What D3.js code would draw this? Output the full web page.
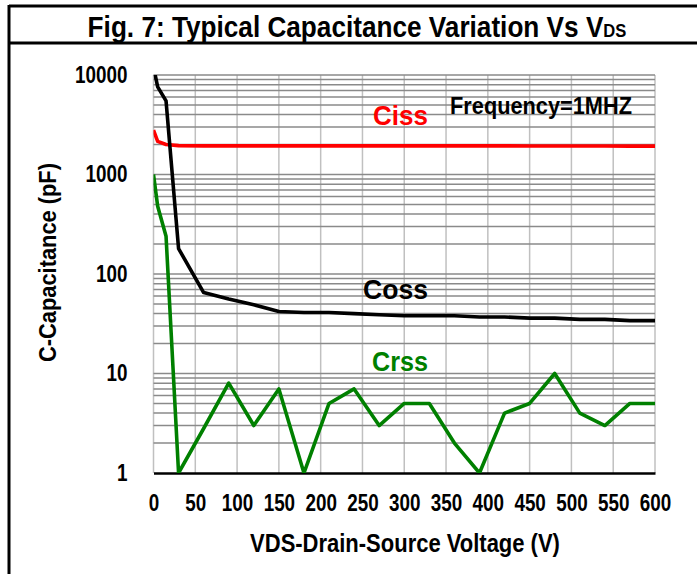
<!DOCTYPE html>
<html>
<head>
<meta charset="utf-8">
<script src="https://cdn.jsdelivr.net/npm/d3@7"></script>
<style>
  body { margin: 0; background: #fff; }
  text { font-family: "Liberation Sans Narrow", "Arial Narrow", "Liberation Sans", sans-serif; font-weight: bold; }
</style>
</head>
<body>
<div id="chart"></div>
<script>
// values (pF vs V)
var vds = [0, 5, 15, 30, 60, 90, 120, 150, 180, 210, 240, 270, 300, 330, 360, 390, 420, 450, 480, 510, 540, 570, 600];
var ciss = [2800, 2150, 2000, 1950, 1940, 1940, 1940, 1940, 1940, 1940, 1940, 1940, 1940, 1940, 1940, 1940, 1940, 1935, 1935, 1935, 1935, 1930, 1930];
var coss = [12000, 7600, 5500, 180, 65, 56, 49, 42, 41, 41, 40, 39, 38, 38, 38, 37, 37, 36, 36, 35, 35, 34, 34];
var crss = [1000, 480, 240, 1, 2.8, 8, 3, 7, 1, 5, 7, 3, 5, 5, 2, 1, 4, 5, 10, 4, 3, 5, 5];
var xTicks = [0, 50, 100, 150, 200, 250, 300, 350, 400, 450, 500, 550, 600];
var yTicks = [1, 10, 100, 1000, 10000];

var W = 697, H = 574;
var NARROW = 0.82; // no Arial Narrow here, so squeeze the glyphs

var svg = d3.select("#chart").append("svg")
    .attr("width", W)
    .attr("height", H);

svg.append("rect").attr("width", W).attr("height", H).attr("fill", "#fff");

// frame + title box
svg.append("line").attr("x1", 9).attr("x2", W).attr("y1", 6).attr("y2", 6)
    .attr("stroke", "#000").attr("stroke-width", 3);
svg.append("line").attr("x1", 9).attr("x2", W).attr("y1", 43).attr("y2", 43)
    .attr("stroke", "#000").attr("stroke-width", 3);
svg.append("line").attr("x1", 9).attr("x2", 9).attr("y1", 5).attr("y2", H)
    .attr("stroke", "#000").attr("stroke-width", 3);

// text placed at (cx, cy) and squeezed sideways to a given width
function label(txt, cx, cy, size, color, width, rot) {
    var g = svg.append("g").attr("transform", `translate(${cx}, ${cy}) rotate(${rot || 0})`);
    var t = g.append("text")
        .attr("text-anchor", "middle")
        .attr("font-size", size)
        .attr("fill", color)
        .text(txt);
    var w = t.node().getComputedTextLength();
    t.attr("transform", `scale(${width / w}, 1)`);
    return t;
}

// title with subscript
var tg = svg.append("g").attr("transform", "translate(357, 37)");
var title = tg.append("text")
    .attr("text-anchor", "middle")
    .attr("font-size", 30);
title.append("tspan").text("Fig. 7: Typical Capacitance Variation Vs V");
title.append("tspan").attr("font-size", 19).text("DS");
title.attr("transform", `scale(${539 / title.node().getComputedTextLength()}, 1)`);

var x = d3.scaleLinear().domain([0, 600]).range([153.5, 655]);
var y = d3.scaleLog().domain([1, 10000]).range([473, 75]);

// vertical grid
svg.append("g")
    .selectAll("line")
    .data(xTicks)
    .enter()
    .append("line")
    .attr("x1", d => x(d)).attr("x2", d => x(d))
    .attr("y1", y(10000)).attr("y2", y(1))
    .attr("stroke", "#c0c0c0").attr("stroke-width", 1.5);

// horizontal grid, decades + minors
var hLines = y.ticks().filter(d => d > 1);
svg.append("g")
    .selectAll("line")
    .data(hLines)
    .enter()
    .append("line")
    .attr("x1", x(0)).attr("x2", x(600))
    .attr("y1", d => y(d)).attr("y2", d => y(d))
    .attr("stroke", "#8a8a8a").attr("stroke-width", 1.5);

// bottom axis
var xAxis = svg.append("g")
    .attr("transform", `translate(0, ${y(1)})`)
    .call(d3.axisBottom(x).tickValues(xTicks).tickSize(0).tickPadding(22));
xAxis.select(".domain").attr("stroke", "#000").attr("stroke-width", 2.5);
xAxis.selectAll("text").attr("font-size", 23).attr("fill", "#000")
    .attr("font-family", null)
    .attr("transform", `scale(${NARROW}, 1)`);

var yAxis = svg.append("g")
    .attr("transform", `translate(${x(0)}, 0)`)
    .call(d3.axisLeft(y).tickValues(yTicks).tickFormat(d3.format("d")).tickSize(0).tickPadding(26 / NARROW));
yAxis.select(".domain").remove();
yAxis.selectAll("text").attr("font-size", 23).attr("fill", "#000")
    .attr("font-family", null)
    .attr("transform", `scale(${NARROW}, 1)`);

// series
var line = d3.line()
    .x((d, i) => x(vds[i]))
    .y(d => y(d));

svg.append("clipPath").attr("id", "plotclip")
    .append("rect")
    .attr("x", x(0)).attr("y", y(10000))
    .attr("width", x(600) - x(0)).attr("height", y(1) - y(10000));

var plot = svg.append("g").attr("clip-path", "url(#plotclip)");
var series = [
    { vals: ciss, color: "#ff0000" },
    { vals: coss, color: "#000000" },
    { vals: crss, color: "#008000" }
];
plot.selectAll("path")
    .data(series)
    .enter()
    .append("path")
    .attr("d", d => line(d.vals))
    .attr("fill", "none")
    .attr("stroke", d => d.color)
    .attr("stroke-width", 3.6)
    .attr("stroke-linejoin", "round");

// labels
label("Ciss", 400.5, 125, 28, "#ff0000", 55);
label("Frequency=1MHZ", 541, 114, 23, "#000", 182);
label("Coss", 395.5, 299, 28, "#000", 65);
label("Crss", 400, 371, 28, "#008000", 56);

label("VDS-Drain-Source Voltage (V)", 405, 552, 25, "#000", 310);
label("C-Capacitance (pF)", 56, 262.5, 24, "#000", 199, -90);
</script>
</body>
</html>
